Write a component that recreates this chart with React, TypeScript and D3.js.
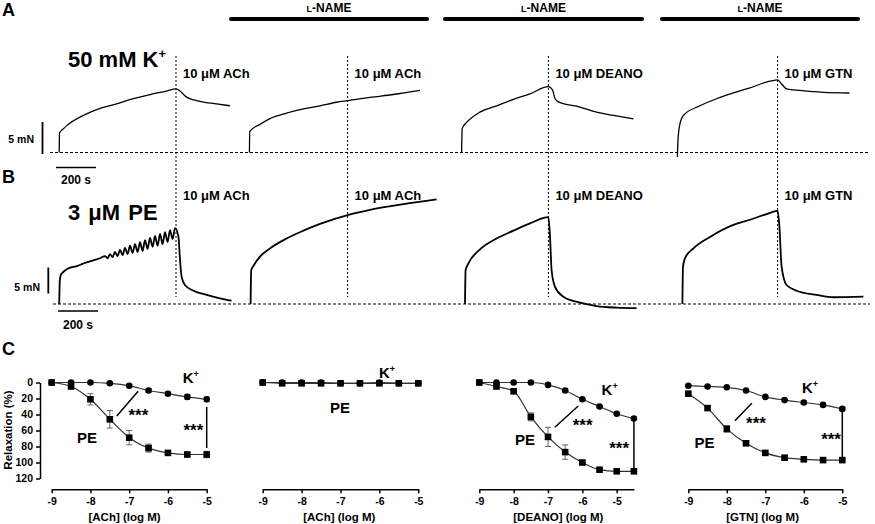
import React, { useEffect, useRef } from 'react';
import * as d3 from 'd3';

type Pt = [number, number];

const FONT = 'Liberation Sans, Arial, Helvetica, sans-serif';

// force traces: [time (s), force above baseline (mN)]
const traceA1: Pt[] = [[46, 0], [48, 3.1], [67, 3.7], [84, 4.2], [167, 5.8], [250, 6.9], [333, 7.6], [417, 8.4], [500, 9.06], [583, 9.6], [630, 9.95], [650, 9.6], [683, 8.65], [750, 8.0], [833, 7.6], [900, 7.3]];
const traceA2: Pt[] = [[997, 0], [999, 3.3], [1050, 4.4], [1100, 5.3], [1183, 6.15], [1267, 6.8], [1350, 7.3], [1433, 7.85], [1488, 8.1], [1600, 8.6], [1717, 9.06], [1850, 9.7]];
const traceA3: Pt[] = [[2058, 0], [2061, 3.8], [2083, 4.7], [2150, 6.3], [2233, 7.3], [2317, 8.3], [2400, 9.17], [2492, 10.3], [2513, 9.75], [2525, 8.45], [2542, 7.9], [2650, 7.1], [2733, 6.3], [2817, 5.8], [2917, 5.25]];
const traceA4: Pt[] = [[3137, -0.7], [3140, 2.0], [3150, 4.5], [3167, 5.8], [3250, 7.3], [3333, 8.4], [3417, 9.3], [3500, 10.1], [3583, 11.0], [3638, 11.35], [3658, 10.7], [3683, 9.95], [3750, 9.7], [3867, 9.4], [3997, 9.3]];

const traceB1: Pt[] = [[46, 0], [49, 4.5], [54, 5.6], [62, 6.0], [84, 6.7], [134, 7.3], [155, 7.6], [175, 7.9], [200, 8.2], [225, 8.5], [250, 8.8], [275, 9.2], [288, 8.8], [300, 9.6], [313, 9.0], [325, 10.0], [338, 9.2], [350, 10.4], [363, 9.4], [375, 10.8], [388, 9.6], [400, 11.2], [413, 9.8], [425, 11.5], [438, 10.0], [450, 11.9], [463, 10.2], [475, 12.3], [488, 10.6], [500, 12.7], [513, 11.0], [525, 13.1], [538, 11.2], [550, 13.5], [563, 11.5], [575, 13.8], [588, 11.9], [600, 14.2], [613, 12.5], [625, 14.6], [642, 13.0], [650, 8.5], [658, 5.25], [675, 3.65], [717, 2.55], [783, 1.75], [850, 1.1], [908, 0.65]];
const traceB2: Pt[] = [[1003, 0], [1006, 6.5], [1017, 7.3], [1050, 9.1], [1100, 10.7], [1183, 12.6], [1267, 14.1], [1350, 15.4], [1488, 17.1], [1600, 18.1], [1767, 19.2], [1933, 20.1]];
const traceB3: Pt[] = [[2075, 0], [2078, 6.5], [2092, 7.8], [2150, 10.5], [2233, 12.6], [2317, 14.1], [2400, 15.5], [2492, 16.7], [2500, 12.9], [2508, 6.5], [2525, 3.3], [2567, 1.4], [2650, 0.25], [2733, -0.4], [2833, -0.7], [2933, -0.8]];
const traceB4: Pt[] = [[3162, 0], [3165, 7.2], [3175, 8.8], [3217, 10.7], [3300, 12.9], [3417, 15.2], [3500, 16.2], [3583, 17.3], [3638, 17.9], [3647, 14.9], [3658, 7.2], [3683, 3.65], [3733, 2.55], [3833, 1.75], [3917, 1.3], [4067, 1.4]];

const eventTimes = [630, 1488, 2492, 3638];
const drugLabels = ['10 μM ACh', '10 μM ACh', '10 μM DEANO', '10 μM GTN'];
const lNameBars: Pt[] = [[905, 1885], [1975, 2960], [3060, 4040]];

// concentration-response curves (relaxation %, mean and SEM)
const logAch = [-9, -8.5, -8, -7.5, -7, -6.5, -6, -5.5, -5];
const logDeano = [-9, -8.5, -8, -7.5, -7, -6.5, -6, -5.5, -5, -4.5];
const logGtn = [-9, -8.5, -8, -7.5, -7, -6.5, -6, -5.5, -5];

const kAch = [0, 0, 0, 1, 4, 10, 14, 18, 21];
const kAchSem = [0, 0, 0, 1, 1, 2, 2, 3, 3];
const peAch = [0, 5, 21, 46, 69, 82, 88, 90, 90];
const peAchSem = [0, 2, 7, 11, 9, 5, 3, 3, 4];

const kAchLn = [0, 0, 0, 0, 1, 1, 0, 1, 1];
const kAchLnSem = [0, 0, 0, 0, 0, 0, 0, 0, 0];
const peAchLn = [0, 1, 1, 1, 1, 1, 1, 1, 1];
const peAchLnSem = [0, 0, 0, 0, 0, 0, 0, 0, 0];

const kDeano = [0, 0, 0, 0, 3, 10, 21, 30, 39, 45];
const kDeanoSem = [0, 0, 0, 0, 1, 1, 1, 1, 1, 1];
const peDeano = [0, 5, 11, 43, 68, 87, 100, 109, 111, 111];
const peDeanoSem = [0, 2, 3, 5, 12, 9, 2, 1, 1, 1];

const kGtn = [4, 5, 6, 10, 18, 22, 25, 28, 33];
const kGtnSem = [1, 1, 1, 1, 1, 1, 2, 2, 2];
const peGtn = [14, 32, 58, 76, 88, 94, 96, 97, 97];
const peGtnSem = [1, 3, 4, 1, 1, 1, 1, 1, 1];

const yTicks = [0, 20, 40, 60, 80, 100, 120];
const xTicks = [-9, -8, -7, -6, -5];

const tScale = d3.scaleLinear().domain([0, 4100]).range([50, 870]);
const fA = d3.scaleLinear().domain([0, 10]).range([152.5, 88.5]);
const fB = d3.scaleLinear().domain([0, 10]).range([304, 252]);
const relY = d3.scaleLinear().domain([0, 120]).range([382.5, 478.5]);

const Trace = ({ data, fy, w }: { data: Pt[]; fy: d3.ScaleLinear<number, number>; w: number }) => {
  const line = d3.line<Pt>().x(d => tScale(d[0])).y(d => fy(d[1])).curve(d3.curveMonotoneX);
  return <path d={line(data) || ''} fill="none" stroke="#000" strokeWidth={w} strokeLinejoin="round" />;
};

interface PanelCfg {
  xs: number[]; k: number[]; kSem: number[]; pe: number[]; peSem: number[];
  domain: [number, number]; range: [number, number];
  title: string; titleX: number; showY: boolean;
  kLabel: Pt; peLabel: Pt;
  slash?: [Pt, Pt]; star1?: Pt; vbar?: [number, number, number]; star2?: Pt;
}

const panels: PanelCfg[] = [
  { xs: logAch, k: kAch, kSem: kAchSem, pe: peAch, peSem: peAchSem, domain: [-9, -5], range: [51.7, 206.7],
    title: '[ACh] (log M)', titleX: -7.12, showY: true, kLabel: [-5.62, 0.6], peLabel: [-8.35, 75.6],
    slash: [[-7.32, 42], [-6.77, 11]], star1: [-7.02, 48], vbar: [-5, 30.6, 81.9], star2: [-5.6, 67] },
  { xs: logAch, k: kAchLn, kSem: kAchLnSem, pe: peAchLn, peSem: peAchLnSem, domain: [-9, -5], range: [262.7, 418.3],
    title: '[ACh] (log M)', titleX: -7.03, showY: false, kLabel: [-6.01, -5.6], peLabel: [-7.27, 38.1] },
  { xs: logDeano, k: kDeano, kSem: kDeanoSem, pe: peDeano, peSem: peDeanoSem, domain: [-9, -4.5], range: [479.3, 633.9],
    title: '[DEANO] (log M)', titleX: -6.7, showY: false, kLabel: [-5.44, 15.6], peLabel: [-7.96, 78.1],
    slash: [[-6.8, 56], [-6.12, 29.4]], star1: [-6.28, 61], vbar: [-4.5, 46, 111.5], star2: [-5.22, 89.5] },
  { xs: logGtn, k: kGtn, kSem: kGtnSem, pe: peGtn, peSem: peGtnSem, domain: [-9, -5], range: [688.3, 842.3],
    title: '[GTN] (log M)', titleX: -7.07, showY: false, kLabel: [-6.05, 13.1], peLabel: [-8.84, 81.9],
    slash: [[-7.79, 47.8], [-7.35, 26]], star1: [-7.5, 58.5], vbar: [-5, 35.6, 94.8], star2: [-5.55, 78] },
];

const styleAxis = (g: d3.Selection<SVGGElement, unknown, null, undefined>) => {
  g.attr('font-family', FONT).attr('font-size', 10.5).attr('font-weight', 'bold');
  g.selectAll('path, line').attr('stroke', '#000').attr('stroke-width', 1.5);
  g.selectAll('text').attr('fill', '#000');
};

const CurvePanel: React.FC<{ cfg: PanelCfg }> = ({ cfg }) => {
  const xRef = useRef<SVGGElement>(null);
  const yRef = useRef<SVGGElement>(null);
  const x = d3.scaleLinear().domain(cfg.domain).range(cfg.range);

  useEffect(() => {
    const gx = d3.select(xRef.current!);
    gx.selectAll('*').remove();
    gx.call(d3.axisBottom(x).tickValues(xTicks).tickSize(4).tickSizeOuter(0).tickPadding(4).tickFormat(d => String(d)));
    styleAxis(gx);
    if (cfg.showY && yRef.current) {
      const gy = d3.select(yRef.current);
      gy.selectAll('*').remove();
      gy.call(d3.axisLeft(relY).tickValues(yTicks).tickSize(4).tickSizeOuter(0).tickPadding(3));
      styleAxis(gy);
    }
  }, [cfg]);

  const line = d3.line<[number, number]>().x(d => x(d[0])).y(d => relY(d[1])).curve(d3.curveMonotoneX);
  const kPts = cfg.xs.map((v, i) => [v, cfg.k[i]] as [number, number]);
  const pePts = cfg.xs.map((v, i) => [v, cfg.pe[i]] as [number, number]);

  const errBars = (vals: number[], sems: number[], key: string) =>
    cfg.xs.map((v, i) => sems[i] > 0 ? (
      <g key={key + i} stroke="#666" strokeWidth={1}>
        <line x1={x(v)} x2={x(v)} y1={relY(vals[i] - sems[i])} y2={relY(vals[i] + sems[i])} />
        <line x1={x(v) - 3} x2={x(v) + 3} y1={relY(vals[i] - sems[i])} y2={relY(vals[i] - sems[i])} />
        <line x1={x(v) - 3} x2={x(v) + 3} y1={relY(vals[i] + sems[i])} y2={relY(vals[i] + sems[i])} />
      </g>
    ) : null);

  return (
    <g fontFamily={FONT}>
      <g ref={xRef} transform="translate(0,489.3)" />
      {cfg.showY && <g ref={yRef} transform="translate(40,0)" />}
      {cfg.showY && (
        <text transform="translate(12,430) rotate(-90)" textAnchor="middle" fontSize={11.5} fontWeight="bold">Relaxation (%)</text>
      )}
      <text x={x(cfg.titleX)} y={521} textAnchor="middle" fontSize={11.5} fontWeight="bold">{cfg.title}</text>

      <path d={line(pePts) || ''} fill="none" stroke="#333" strokeWidth={1.2} />
      <path d={line(kPts) || ''} fill="none" stroke="#333" strokeWidth={1.2} />
      {errBars(cfg.pe, cfg.peSem, 'pe')}
      {errBars(cfg.k, cfg.kSem, 'k')}
      {cfg.xs.map((v, i) => <circle key={'c' + i} cx={x(v)} cy={relY(cfg.k[i])} r={3.3} fill="#000" />)}
      {cfg.xs.map((v, i) => <rect key={'s' + i} x={x(v) - 3.3} y={relY(cfg.pe[i]) - 3.3} width={6.6} height={6.6} fill="#000" />)}

      <text x={x(cfg.kLabel[0])} y={relY(cfg.kLabel[1])} fontSize={15} fontWeight="bold">
        K<tspan fontSize={9} dy={-6}>+</tspan>
      </text>
      <text x={x(cfg.peLabel[0])} y={relY(cfg.peLabel[1])} fontSize={15} fontWeight="bold">PE</text>

      {cfg.slash && (
        <line x1={x(cfg.slash[0][0])} y1={relY(cfg.slash[0][1])} x2={x(cfg.slash[1][0])} y2={relY(cfg.slash[1][1])} stroke="#000" strokeWidth={1.5} />
      )}
      {cfg.star1 && <text x={x(cfg.star1[0])} y={relY(cfg.star1[1])} fontSize={17} fontWeight="bold">***</text>}
      {cfg.vbar && (
        <line x1={x(cfg.vbar[0])} x2={x(cfg.vbar[0])} y1={relY(cfg.vbar[1])} y2={relY(cfg.vbar[2])} stroke="#000" strokeWidth={1.5} />
      )}
      {cfg.star2 && <text x={x(cfg.star2[0])} y={relY(cfg.star2[1])} fontSize={17} fontWeight="bold">***</text>}
    </g>
  );
};

const App: React.FC = () => {
  const barA = fA(0) - fA(5);
  const barB = fB(0) - fB(5);
  return (
    <svg width={875} height={524} style={{ position: 'absolute', left: 0, top: 0, background: '#fff' }} fontFamily={FONT}>
      {/* panel letters */}
      <text x={2} y={16} fontSize={18} fontWeight="bold">A</text>
      <text x={2} y={183} fontSize={18} fontWeight="bold">B</text>
      <text x={2} y={355} fontSize={18} fontWeight="bold">C</text>

      {/* L-NAME bars */}
      {lNameBars.map(([a, b], i) => (
        <g key={'ln' + i}>
          <line x1={tScale(a)} x2={tScale(b)} y1={19} y2={19} stroke="#000" strokeWidth={4} strokeLinecap="round" />
          <text x={(tScale(a) + tScale(b)) / 2} y={12} textAnchor="middle" fontSize={12} fontWeight="bold">
            <tspan fontSize={9}>L</tspan>-NAME
          </text>
        </g>
      ))}

      {/* agonist labels */}
      <text x={68} y={67} fontSize={22} fontWeight="bold">50 mM K<tspan fontSize={13} dy={-9}>+</tspan></text>
      <text x={68} y={220} fontSize={22} fontWeight="bold" wordSpacing={2}>3 μM PE</text>

      {/* baselines */}
      <line x1={50} x2={870} y1={fA(0)} y2={fA(0)} stroke="#000" strokeWidth={1.1} strokeDasharray="3,2" />
      <line x1={53} x2={870} y1={fB(0)} y2={fB(0)} stroke="#000" strokeWidth={1.1} strokeDasharray="3,2" />

      {/* drug application lines and labels */}
      {eventTimes.map((t, i) => (
        <g key={'ev' + i}>
          <line x1={tScale(t)} x2={tScale(t)} y1={56} y2={297} stroke="#000" strokeWidth={1} strokeDasharray="2,2" />
          <text x={tScale(t) + 7} y={78} fontSize={13} fontWeight="bold">{drugLabels[i]}</text>
          <text x={tScale(t) + 7} y={200} fontSize={13} fontWeight="bold">{drugLabels[i]}</text>
        </g>
      ))}

      {/* scale bars */}
      <line x1={42.5} x2={42.5} y1={154} y2={154 - barA} stroke="#000" strokeWidth={1.8} />
      <text x={34} y={143} textAnchor="end" fontSize={10.5} fontWeight="bold">5 mN</text>
      <line x1={tScale(30)} x2={tScale(230)} y1={167.5} y2={167.5} stroke="#000" strokeWidth={1.5} />
      <text x={(tScale(30) + tScale(230)) / 2} y={184} textAnchor="middle" fontSize={12} fontWeight="bold">200 s</text>

      <line x1={48.3} x2={48.3} y1={293.5} y2={293.5 - barB} stroke="#000" strokeWidth={1.8} />
      <text x={40} y={291} textAnchor="end" fontSize={10.5} fontWeight="bold">5 mN</text>
      <line x1={tScale(40)} x2={tScale(240)} y1={311} y2={311} stroke="#000" strokeWidth={1.5} />
      <text x={(tScale(40) + tScale(240)) / 2} y={329} textAnchor="middle" fontSize={12} fontWeight="bold">200 s</text>

      {/* traces */}
      {[traceA1, traceA2, traceA3, traceA4].map((d, i) => <Trace key={'a' + i} data={d} fy={fA} w={1.3} />)}
      {[traceB1, traceB2, traceB3, traceB4].map((d, i) => <Trace key={'b' + i} data={d} fy={fB} w={1.8} />)}

      {/* concentration-response panels */}
      {panels.map((p, i) => <CurvePanel key={'p' + i} cfg={p} />)}
    </svg>
  );
};

export default App;
